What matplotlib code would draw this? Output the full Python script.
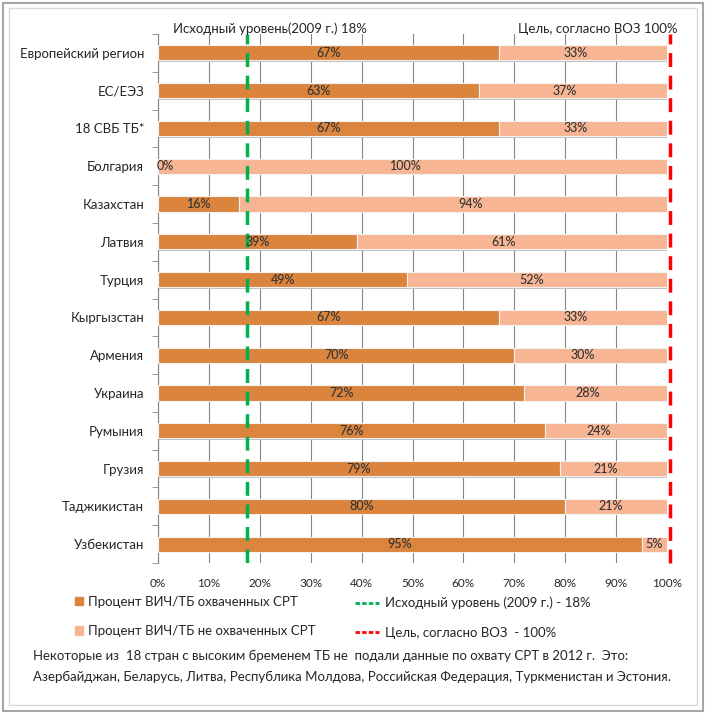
import numpy as np
import matplotlib.pyplot as plt
from matplotlib.patches import Rectangle
from matplotlib.lines import Line2D

plt.rcParams['font.family'] = ['Lato', 'DejaVu Sans']

countries = ['Европейский регион', 'ЕС/ЕЭЗ', '18 СВБ ТБ*', 'Болгария', 'Казахстан',
             'Латвия', 'Турция', 'Кыргызстан', 'Армения', 'Украина', 'Румыния',
             'Грузия', 'Таджикистан', 'Узбекистан']
covered = [67, 63, 67, 0, 16, 39, 49, 67, 70, 72, 76, 79, 80, 95]
notCovered = [33, 37, 33, 100, 94, 61, 52, 33, 30, 28, 24, 21, 21, 5]
baseline = 17.5
target = 100.5
xticks = [0, 10, 20, 30, 40, 50, 60, 70, 80, 90, 100]

darkOrange = '#DA843E'
lightOrange = '#F8B593'
textCol = '#262626'

fig = plt.figure(figsize=(7.08, 7.15), dpi=100)
ax = fig.add_axes([158/708, 1 - 563/715, 509/708, 529/715])

y = np.arange(len(countries))
# soft shadow under the bars
ax.barh(y + 0.04, [min(c + n, 100) for c, n in zip(covered, notCovered)], height=0.4,
        color='#BFBFBF', zorder=2)
ax.barh(y, covered, height=0.4, color=darkOrange, edgecolor='#F2F2F2', linewidth=0.8, zorder=3)
ax.barh(y, notCovered, left=covered, height=0.4, color=lightOrange, edgecolor='#F2F2F2', linewidth=0.8, zorder=3)

for i in range(len(countries)):
    c = covered[i]
    n = notCovered[i]
    cx = c / 2 if c > 0 else 1.5
    ax.text(cx, y[i], str(c) + '%', ha='center', va='center', fontsize=9, color='#333333',
            fontweight='medium', zorder=5)
    ax.text(c + n / 2 - (1.5 if n > 10 else 0), y[i], str(n) + '%', ha='center', va='center',
            fontsize=9, color='#333333', fontweight='medium', zorder=5)

ax.axvline(baseline, color='#00B050', linestyle=(0, (4, 2.5)), linewidth=2.5, zorder=4)
ax.axvline(target, color='#FF0000', linestyle=(0, (4, 2.5)), linewidth=2.5, zorder=4, clip_on=False)

ax.set_xlim(0, 100)
ax.set_ylim(len(countries) - 0.5, -0.5)
ax.set_xticks(xticks)
ax.set_xticklabels([str(t) + '%' for t in xticks], fontsize=8.5, color=textCol)
ax.set_yticks(y)
ax.set_yticklabels(countries, fontsize=9.5, color=textCol)
ax.set_yticks(np.arange(-0.5, len(countries), 1), minor=True)
ax.tick_params(axis='y', which='major', length=0, pad=10)
ax.tick_params(axis='y', which='minor', length=4, color='#868686')
ax.tick_params(axis='x', length=0, pad=11)
ax.grid(axis='x', color='#868686', linewidth=0.8, zorder=0)
for s in ['top', 'right', 'bottom']:
    ax.spines[s].set_visible(False)
ax.spines['left'].set_color('#868686')

fig.text(270/708, 1 - 29/715, 'Исходный уровень(2009 г.) 18%', ha='center', va='center', fontsize=9.5, color=textCol)
fig.text(677/708, 1 - 29/715, 'Цель, согласно ВОЗ 100%', ha='right', va='center', fontsize=9.5, color=textCol)

barHandles = [Rectangle((0, 0), 1, 1, color=darkOrange),
              Rectangle((0, 0), 1, 1, color=lightOrange)]
barLabels = ['Процент ВИЧ/ТБ охваченных СРТ', 'Процент ВИЧ/ТБ не охваченных СРТ']
lineHandles = [Line2D([0], [0], color='#00B050', linestyle=(0, (1.6, 0.8)), linewidth=2),
               Line2D([0], [0], color='#FF0000', linestyle=(0, (1.6, 0.8)), linewidth=2)]
lineLabels = ['Исходный уровень (2009 г.) - 18%', 'Цель, согласно ВОЗ  - 100%']
leg1 = fig.legend(barHandles, barLabels, loc='upper left', bbox_to_anchor=(63/708, 1 - 584/715),
                  frameon=False, fontsize=9.5, handlelength=0.6, handleheight=0.6, handletextpad=0.4,
                  labelspacing=1.3, labelcolor=textCol)
leg2 = fig.legend(lineHandles, lineLabels, loc='upper left', bbox_to_anchor=(343/708, 1 - 585/715),
                  frameon=False, fontsize=9.5, handlelength=1.8, handletextpad=0.5,
                  labelspacing=1.3, labelcolor=textCol)

fig.text(33/708, 1 - 656/715, 'Некоторые из  18 стран с высоким бременем ТБ не  подали данные по охвату СРТ в 2012 г.  Это:',
         ha='left', va='center', fontsize=9.5, color=textCol)
fig.text(33/708, 1 - 677/715, 'Азербайджан, Беларусь, Литва, Республика Молдова, Российская Федерация, Туркменистан и Эстония.',
         ha='left', va='center', fontsize=9.5, color=textCol)

fig.patches.append(Rectangle((3/708, 4/715), 700/708, 708/715, transform=fig.transFigure,
                             fill=False, edgecolor='#A6A6A6', linewidth=1.5))
fig.patches.append(Rectangle((9/708, 10/715), 688/708, 697/715, transform=fig.transFigure,
                             fill=False, edgecolor='#D9D9D9', linewidth=1))

fig.savefig('out.png', dpi=100)
